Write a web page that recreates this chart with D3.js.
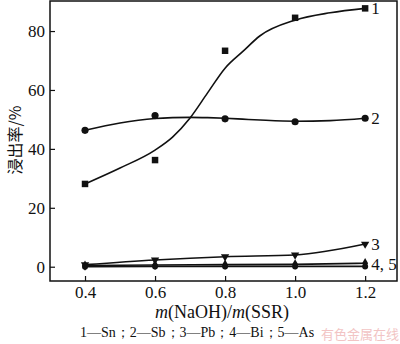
<!DOCTYPE html>
<html>
<head>
<meta charset="utf-8">
<script src="https://cdn.jsdelivr.net/npm/d3@7"></script>
<style>
  body { margin: 0; background: #fff; }
  text { font-family: "Liberation Serif", "Times New Roman", serif; fill: #111; }
</style>
</head>
<body>
<div id="chart"></div>
<script>
// data
const ratio = [0.4, 0.6, 0.8, 1.0, 1.2];
const sn = [28.1, 36.2, 73.3, 84.5, 87.7];
const sb = [46.3, 51.3, 50.2, 49.2, 50.4];
const pb = [0.7, 2.3, 3.4, 4.0, 7.7];
const bi = [0.4, 0.6, 0.7, 0.8, 1.2];
const as = [0.0, 0.1, 0.1, 0.1, 0.1];

// fitted curves for Sn and Sb
const fitX = [0.4, 0.5, 0.6, 0.65, 0.7, 0.75, 0.8, 0.85, 0.9, 1.0, 1.1, 1.2];
const snFit = [28.1, 33.5, 39.6, 44, 50.5, 59, 67.4, 73, 78.4, 83.7, 86.2, 87.7];
const sbFit = [46.3, 48.8, 50.3, 50.6, 50.7, 50.6, 50.4, 50.1, 49.8, 49.4, 49.6, 50.4];

const xTicks = [0.4, 0.6, 0.8, 1.0, 1.2];
const yTicks = [0, 20, 40, 60, 80];

const W = 400, H = 344;
const pLeft = 50, pRight = 397, pTop = 1, pBottom = 281;

const svg = d3.select("#chart").append("svg")
  .attr("width", W).attr("height", H);

const x = d3.scaleLinear().domain([0.3, 1.291]).range([pLeft, pRight]);
const y = d3.scaleLinear().domain([-4.85, 90.2]).range([pBottom, pTop]);

// frame
svg.append("rect")
  .attr("x", pLeft).attr("y", pTop)
  .attr("width", pRight - pLeft).attr("height", pBottom - pTop)
  .attr("fill", "none").attr("stroke", "#111").attr("stroke-width", 1.5);

// axes with inward ticks
const xAxis = svg.append("g")
  .attr("transform", "translate(0," + pBottom + ")")
  .call(d3.axisBottom(x).tickValues(xTicks).tickSize(-5).tickPadding(5)
    .tickFormat(d3.format(".1f")));
const yAxis = svg.append("g")
  .attr("transform", "translate(" + pLeft + ",0)")
  .call(d3.axisLeft(y).tickValues(yTicks).tickSize(-5).tickPadding(5));

[xAxis, yAxis].forEach(g => {
  g.attr("font-family", "Liberation Serif").attr("font-size", 17);
  g.select(".domain").remove();
  g.selectAll("line").attr("stroke", "#111").attr("stroke-width", 1.2);
  g.selectAll("text").attr("fill", "#111");
});

// lines
const line = (xs, ys, curve) => d3.line()
  .x((d, i) => x(xs[i])).y(d => y(d)).curve(curve)(ys);

function drawLine(xs, ys, curve) {
  svg.append("path")
    .attr("d", line(xs, ys, curve))
    .attr("fill", "none").attr("stroke", "#111").attr("stroke-width", 1.6);
}

drawLine(fitX, snFit, d3.curveMonotoneX);
drawLine(fitX, sbFit, d3.curveMonotoneX);
drawLine(ratio, pb, d3.curveMonotoneX);
drawLine(ratio, bi, d3.curveMonotoneX);
drawLine(ratio, as, d3.curveMonotoneX);

// markers
function drawMarkers(ys, type, size) {
  svg.append("g").selectAll("path")
    .data(ys)
    .enter()
    .append("path")
    .attr("d", d3.symbol().type(type).size(size))
    .attr("transform", (d, i) => {
      const rot = type === d3.symbolTriangle ? " rotate(180)" : "";
      return "translate(" + x(ratio[i]) + "," + y(d) + ")" + rot;
    })
    .attr("fill", "#111");
}
drawMarkers(sn, d3.symbolSquare, 42);
drawMarkers(sb, d3.symbolCircle, 40);
drawMarkers(pb, d3.symbolTriangle, 30);
drawMarkers(bi, d3.symbolDiamond, 30);
drawMarkers(as, d3.symbolCircle, 28);

// series labels
const labels = [
  { t: "1", v: sn[4], dy: 6 },
  { t: "2", v: sb[4], dy: 6 },
  { t: "3", v: pb[4], dy: 6 },
  { t: "4, 5", v: bi[4], dy: 7 }
];
svg.append("g").selectAll("text")
  .data(labels)
  .enter()
  .append("text")
  .attr("x", x(1.2) + 6)
  .attr("y", d => y(d.v) + d.dy)
  .style("font-size", "17px")
  .text(d => d.t);

// axis titles
const xt = svg.append("text")
  .attr("x", 222).attr("y", 318)
  .attr("text-anchor", "middle")
  .style("font-size", "18px");
xt.append("tspan").attr("font-style", "italic").text("m");
xt.append("tspan").text("(NaOH)/");
xt.append("tspan").attr("font-style", "italic").text("m");
xt.append("tspan").text("(SSR)");

svg.append("text")
  .attr("transform", "translate(21,140) rotate(-90)")
  .attr("text-anchor", "middle")
  .style("font-family", "'Noto Sans CJK SC', 'Liberation Serif', serif")
  .style("font-size", "16px")
  .text("浸出率/%");

// legend
svg.append("text")
  .attr("x", 80).attr("y", 337)
  .style("font-size", "14px")
  .text("1—Sn；2—Sb；3—Pb；4—Bi；5—As");

// watermark
svg.append("text")
  .attr("x", 399).attr("y", 339)
  .attr("text-anchor", "end")
  .style("font-family", "'Noto Sans CJK SC', sans-serif")
  .style("font-size", "13px")
  .style("fill", "#f2c4c4")
  .text("有色金属在线");
</script>
</body>
</html>
